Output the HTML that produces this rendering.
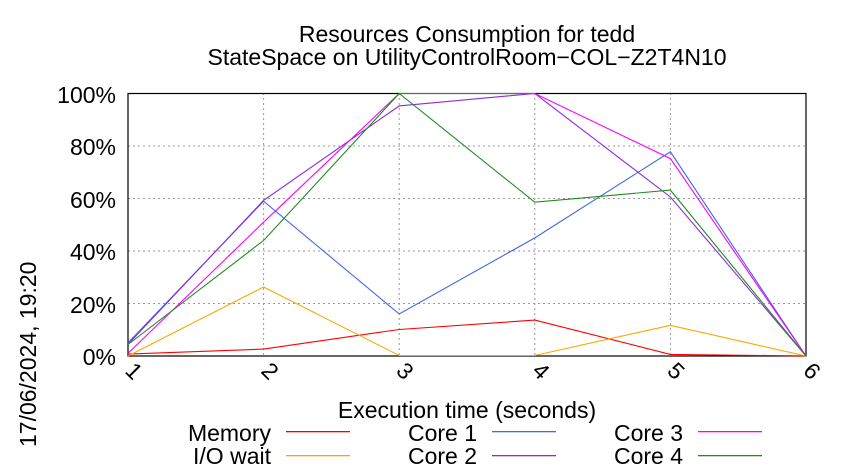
<!DOCTYPE html>
<html><head><meta charset="utf-8"><style>body{margin:0;background:#fff}svg{display:block}text{font-family:"Liberation Sans",sans-serif;fill:#000}</style></head><body>
<svg width="850" height="475" viewBox="0 0 850 475">
<text x="467" y="42" font-size="23" text-anchor="middle">Resources Consumption for tedd</text>
<text x="467" y="65" font-size="23" text-anchor="middle">StateSpace on UtilityControlRoom−COL−Z2T4N10</text>
<g stroke="#999" stroke-width="1" stroke-dasharray="2,3">
<line x1="128" y1="93.5" x2="806" y2="93.5"/><line x1="128" y1="146" x2="806" y2="146"/><line x1="128" y1="198.5" x2="806" y2="198.5"/><line x1="128" y1="251" x2="806" y2="251"/><line x1="128" y1="303.5" x2="806" y2="303.5"/>
<line x1="263.6" y1="93" x2="263.6" y2="356"/><line x1="399.2" y1="93" x2="399.2" y2="356"/><line x1="534.8" y1="93" x2="534.8" y2="356"/><line x1="670.4" y1="93" x2="670.4" y2="356"/>
</g>
<rect x="128" y="93.5" width="678" height="262.5" fill="none" stroke="#000" stroke-width="1.2"/>
<g font-size="23" text-anchor="end">
<text x="116" y="103">100%</text><text x="116" y="155">80%</text><text x="116" y="208">60%</text><text x="116" y="260">40%</text><text x="116" y="313">20%</text><text x="116" y="365">0%</text>
</g>
<g font-size="23">
<text transform="translate(124,372) rotate(45)">1</text><text transform="translate(260,372) rotate(45)">2</text><text transform="translate(395,372) rotate(45)">3</text><text transform="translate(531,372) rotate(45)">4</text><text transform="translate(666,372) rotate(45)">5</text><text transform="translate(802,372) rotate(45)">6</text>
</g>
<text x="467" y="418" font-size="23" text-anchor="middle">Execution time (seconds)</text>
<text transform="translate(36,447) rotate(-90)" font-size="23">17/06/2024, 19:20</text>
<g fill="none" stroke-width="1.1">
<polyline style="stroke:#ff0000" points="128,354.1 263.6,349.1 399.2,329.5 534.8,320.1 670.4,354.4 806,356"/>
<polyline style="stroke:#ffa500" points="128,356 263.6,287 399.2,355.5 534.8,355.5 670.4,325.3 806,356"/>
<polyline style="stroke:#4169e1" points="128,342.9 263.6,201.2 399.2,314 534.8,237.9 670.4,151.8 806,356"/>
<polyline style="stroke:#8a2be2" points="128,344.2 263.6,200.4 399.2,105.9 534.8,93.5 670.4,197 806,356"/>
<polyline style="stroke:#ff00ff" points="128,353.4 263.6,222.2 399.2,93.5 534.8,93.5 670.4,158.6 806,356"/>
<polyline style="stroke:#228b22" points="128,344.5 263.6,240.5 399.2,93.5 534.8,202.2 670.4,190.1 806,356"/>
</g>
<g font-size="23" text-anchor="end">
<text x="271" y="441">Memory</text><text x="271" y="464">I/O wait</text>
<text x="477" y="441">Core 1</text><text x="477" y="464">Core 2</text>
<text x="683" y="441">Core 3</text><text x="683" y="464">Core 4</text>
</g>
<g>
<rect x="286" y="431" width="64" height="1.3" style="fill:#ff0000"/><rect x="286" y="455" width="64" height="1.3" style="fill:#ffa500"/>
<rect x="492" y="431" width="64" height="1.3" style="fill:#4169e1"/><rect x="492" y="455" width="64" height="1.3" style="fill:#8a2be2"/>
<rect x="698" y="431" width="64" height="1.3" style="fill:#ff00ff"/><rect x="698" y="455" width="64" height="1.3" style="fill:#228b22"/>
</g>
</svg>
</body></html>
